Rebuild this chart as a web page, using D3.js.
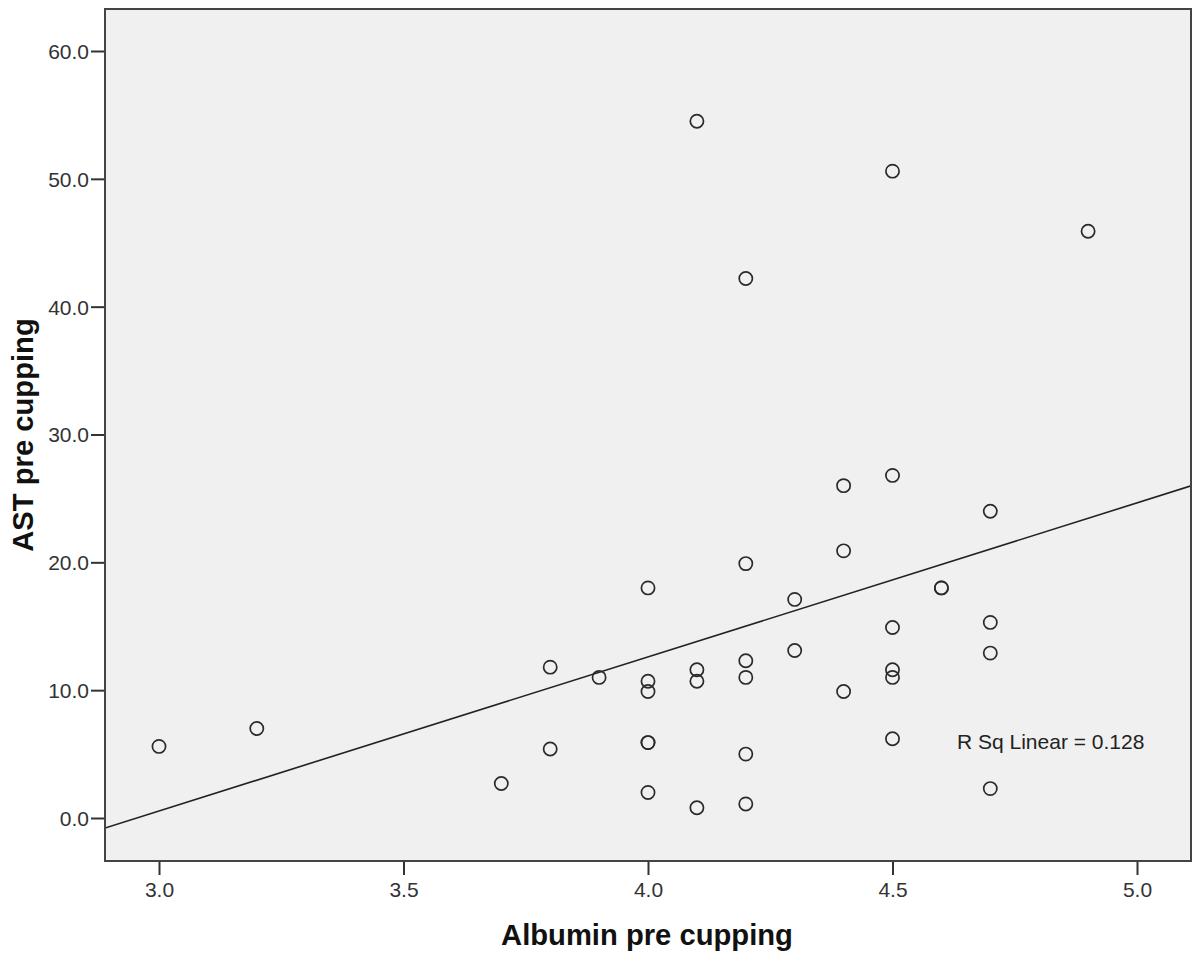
<!DOCTYPE html>
<html>
<head>
<meta charset="utf-8">
<script src="https://cdn.jsdelivr.net/npm/d3@7"></script>
<style>
  body { margin: 0; background: #fff; }
  svg { display: block; font-family: "Liberation Sans", Arial, sans-serif; }
</style>
</head>
<body>
<div id="container"></div>
<script>
// albumin (x) and AST (y)
const albumin = [3.0, 3.2, 3.7, 3.8, 3.8, 3.9, 4.0, 4.0, 4.0, 4.0, 4.0, 4.0,
  4.1, 4.1, 4.1, 4.1, 4.2, 4.2, 4.2, 4.2, 4.2, 4.2, 4.3, 4.3, 4.4, 4.4, 4.4,
  4.5, 4.5, 4.5, 4.5, 4.5, 4.5, 4.6, 4.6, 4.7, 4.7, 4.7, 4.7, 4.9];
const ast = [5.6, 7.0, 2.7, 11.8, 5.4, 11.0, 18.0, 10.7, 9.9, 5.9, 5.9, 2.0,
  54.5, 11.6, 10.7, 0.8, 42.2, 19.9, 12.3, 11.0, 5.0, 1.1, 17.1, 13.1, 26.0, 20.9, 9.9,
  50.6, 26.8, 14.9, 11.6, 11.0, 6.2, 18.0, 18.0, 24.0, 15.3, 12.9, 2.3, 45.9];
const xTicks = [3.0, 3.5, 4.0, 4.5, 5.0];
const yTicks = [0, 10, 20, 30, 40, 50, 60];
const fitIntercept = -35.6;
const fitSlope = 12.05;
const rSqLabel = "R Sq Linear = 0.128";

const W = 1195, H = 958;
const plot = { left: 105, top: 9, right: 1191, bottom: 861 };

const x = d3.scaleLinear().domain([3.0, 5.0]).range([159, 1137]);
const y = d3.scaleLinear().domain([0, 60]).range([818, 51]);

const svg = d3.select("#container").append("svg")
  .attr("width", W).attr("height", H);

svg.append("rect")
  .attr("x", plot.left).attr("y", plot.top)
  .attr("width", plot.right - plot.left).attr("height", plot.bottom - plot.top)
  .attr("fill", "#f0f0f0");

const clip = svg.append("defs").append("clipPath").attr("id", "plotClip");
clip.append("rect")
  .attr("x", plot.left).attr("y", plot.top)
  .attr("width", plot.right - plot.left).attr("height", plot.bottom - plot.top);

// fit line
const x0 = x.invert(plot.left), x1 = x.invert(plot.right);
svg.append("line")
  .attr("clip-path", "url(#plotClip)")
  .attr("x1", x(x0)).attr("y1", y(fitIntercept + fitSlope * x0))
  .attr("x2", x(x1)).attr("y2", y(fitIntercept + fitSlope * x1))
  .attr("stroke", "#222").attr("stroke-width", 1.6);

// points
svg.append("g").selectAll("circle")
  .data(albumin.map((a, i) => [a, ast[i]]))
  .join("circle")
  .attr("cx", d => x(d[0])).attr("cy", d => y(d[1]))
  .attr("r", 6.6)
  .attr("fill", "none").attr("stroke", "#2a2a2a").attr("stroke-width", 1.7);

svg.append("text")
  .attr("x", 957).attr("y", 749)
  .attr("font-size", 21).attr("fill", "#222")
  .text(rSqLabel);

// axes
const xAxis = svg.append("g")
  .attr("transform", `translate(0,${plot.bottom})`)
  .call(d3.axisBottom(x).tickValues(xTicks).tickFormat(d3.format(".1f"))
    .tickSize(14).tickSizeOuter(0));
const yAxis = svg.append("g")
  .attr("transform", `translate(${plot.left},0)`)
  .call(d3.axisLeft(y).tickValues(yTicks).tickFormat(d3.format(".1f"))
    .tickSize(14).tickSizeOuter(0));

[xAxis, yAxis].forEach(g => {
  g.select(".domain").remove();
  g.selectAll(".tick line").attr("stroke", "#333").attr("stroke-width", 2);
  g.selectAll(".tick text").attr("font-size", 21).attr("fill", "#333")
    .attr("font-family", "Liberation Sans, Arial, sans-serif");
});
xAxis.selectAll(".tick text").attr("dy", 0).attr("y", 36);
yAxis.selectAll(".tick text").attr("x", -16).attr("dy", "0.35em");

// frame
svg.append("rect")
  .attr("x", plot.left).attr("y", plot.top)
  .attr("width", plot.right - plot.left).attr("height", plot.bottom - plot.top)
  .attr("fill", "none").attr("stroke", "#444").attr("stroke-width", 2);

// axis titles
svg.append("text")
  .attr("x", 647).attr("y", 945)
  .attr("text-anchor", "middle")
  .attr("font-size", 29.2).attr("font-weight", "bold").attr("fill", "#111")
  .text("Albumin pre cupping");
svg.append("text")
  .attr("transform", "translate(33,435) rotate(-90)")
  .attr("text-anchor", "middle")
  .attr("font-size", 29.2).attr("font-weight", "bold").attr("fill", "#111")
  .text("AST pre cupping");
</script>
</body>
</html>
